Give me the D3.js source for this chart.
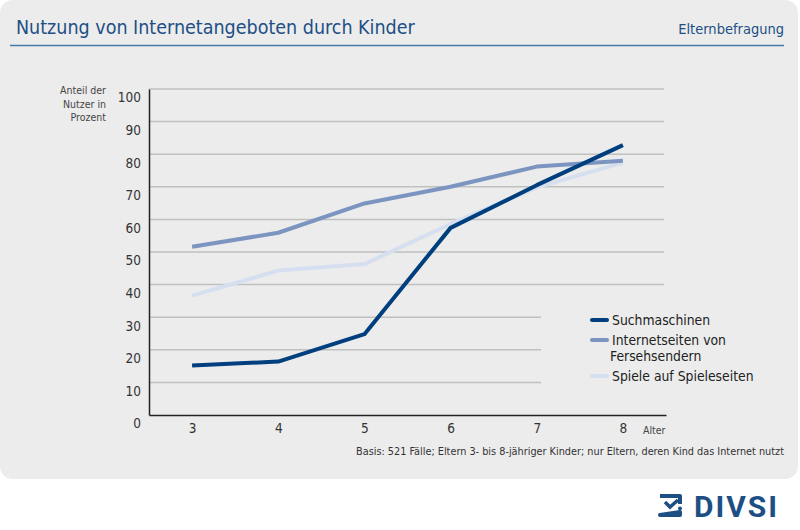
<!DOCTYPE html>
<html lang="de">
<head>
<meta charset="UTF-8">
<title>Nutzung von Internetangeboten durch Kinder</title>
<script src="https://d3js.org/d3.v7.min.js"></script>
<style>
  body { margin: 0; padding: 0; background: #fff; }
  svg { display: block; font-family: "DejaVu Sans Condensed", "DejaVu Sans", sans-serif; }
  .grid line { stroke: #c0c0c0; stroke-width: 1.5px; }
  .tick text { fill: #333; }
</style>
</head>
<body>
<div id="chart"></div>
<script>
// Alter der Kinder
const ages = [3, 4, 5, 6, 7, 8];

// Anteil der Nutzer in Prozent
const suchmaschinen = [15.2, 16.4, 24.8, 57.4, 70.5, 82.8];
const fernsehsender = [51.6, 55.9, 64.9, 70.0, 76.2, 78.0];
const spiele        = [36.6, 44.3, 46.3, 58.6, 69.8, 77.4];

const seriesColors = ["#003f7d", "#7b95c0", "#d6dff0"];
const yTicks = [0, 10, 20, 30, 40, 50, 60, 70, 80, 90, 100];

const W = 800, H = 530;
const svg = d3.select("#chart").append("svg")
    .attr("width", W).attr("height", H);

// grauer Hintergrund
svg.append("rect")
    .attr("x", 0).attr("y", 0)
    .attr("width", 798).attr("height", 479)
    .attr("rx", 13)
    .attr("fill", "#ececec");

// Titel
svg.append("text")
    .attr("x", 16).attr("y", 34)
    .attr("font-size", 19.5)
    .attr("fill", "#1d4f85")
    .text("Nutzung von Internetangeboten durch Kinder");

svg.append("text")
    .attr("x", 784).attr("y", 34)
    .attr("text-anchor", "end")
    .attr("font-size", 14.5)
    .attr("fill", "#1d4f85")
    .text("Elternbefragung");

svg.append("line")
    .attr("x1", 10).attr("x2", 784)
    .attr("y1", 45.5).attr("y2", 45.5)
    .attr("stroke", "#4a78a6").attr("stroke-width", 1.5);

const x = d3.scaleLinear().domain([2.5, 8.5]).range([149, 666]);
const y = d3.scaleLinear().domain([0, 100]).range([415, 89]);

// Gitterlinien (unten kürzer wegen Legende)
svg.append("g").attr("class", "grid")
  .selectAll("line")
  .data(yTicks.filter(d => d > 0))
  .join("line")
    .attr("x1", x(2.5))
    .attr("x2", d => d <= 30 ? 541 : x(8.5) - 2)
    .attr("y1", d => y(d)).attr("y2", d => y(d));

// y-Achse
const yAxis = svg.append("g")
    .attr("transform", `translate(${x(2.5)},0)`)
    .call(d3.axisLeft(y).tickValues(yTicks).tickSize(0).tickPadding(8));
yAxis.select(".domain").attr("stroke", "#222").attr("stroke-width", 1.5);
yAxis.selectAll(".tick text")
    .attr("font-size", 13.5)
    .attr("dy", "0.95em")
    .attr("font-family", "DejaVu Sans Condensed");

// x-Achse
const xAxis = svg.append("g")
    .attr("transform", `translate(0,${y(0)})`)
    .call(d3.axisBottom(x).tickValues(ages).tickFormat(d3.format("d")).tickSize(0).tickPadding(8));
xAxis.select(".domain").attr("stroke", "#222").attr("stroke-width", 1.5);
xAxis.selectAll(".tick text")
    .attr("font-size", 13.5)
    .attr("font-family", "DejaVu Sans Condensed");

svg.append("text")
    .attr("x", 643).attr("y", 434)
    .attr("font-size", 10.5).attr("fill", "#444")
    .text("Alter");

// y-Achsentitel
const yTitle = svg.append("text")
    .attr("text-anchor", "end")
    .attr("font-size", 10.5).attr("fill", "#444");
["Anteil der", "Nutzer in", "Prozent"].forEach((t, i) => {
  yTitle.append("tspan").attr("x", 106).attr("y", 94 + i * 13.5).text(t);
});

// Linien
const series = [suchmaschinen, fernsehsender, spiele];
const line = d3.line()
    .x((d, i) => x(ages[i]))
    .y(d => y(d));

// hellste zuerst zeichnen
[2, 1, 0].forEach(k => {
  svg.append("path")
      .datum(series[k])
      .attr("d", line)
      .attr("fill", "none")
      .attr("stroke", seriesColors[k])
      .attr("stroke-width", 4)
      .attr("stroke-linejoin", "round");
});

// Legende
const legend = svg.append("g").attr("transform", "translate(592,320)");
const legendRows = [
  { lines: ["Suchmaschinen"], dy: 0 },
  { lines: ["Internetseiten von", "Fersehsendern"], dy: 20 },
  { lines: ["Spiele auf Spieleseiten"], dy: 56 }
];
legendRows.forEach((r, i) => {
  legend.append("line")
      .attr("x1", 0).attr("x2", 15)
      .attr("y1", r.dy).attr("y2", r.dy)
      .attr("stroke", seriesColors[i]).attr("stroke-width", 4)
      .attr("stroke-linecap", "round");
  const t = legend.append("text")
      .attr("font-size", 13.8).attr("fill", "#222");
  r.lines.forEach((s, j) => {
    t.append("tspan")
        .attr("x", j === 0 ? 20 : 18)
        .attr("y", r.dy + 5 + j * 15.5)
        .text(s);
  });
});

// Fußnote
svg.append("text")
    .attr("x", 784).attr("y", 455)
    .attr("text-anchor", "end")
    .attr("font-size", 10.8).attr("fill", "#333")
    .text("Basis: 521 Fälle; Eltern 3- bis 8-jähriger Kinder; nur Eltern, deren Kind das Internet nutzt");

// Logo
const logo = svg.append("g").attr("transform", "translate(658,494)");
logo.append("path")
    .attr("d", "M2,2 H22 V10 M22,18 V21 H2 Z")
    .attr("fill", "none").attr("stroke", "#1d4f85").attr("stroke-width", 4)
    .attr("stroke-linejoin", "round");
logo.append("path")
    .attr("d", "M7,8 L12,13 L20,6")
    .attr("fill", "none").attr("stroke", "#1d4f85").attr("stroke-width", 3.5);
logo.append("circle").attr("cx", 22).attr("cy", 14.5).attr("r", 2).attr("fill", "#1d4f85");
logo.append("text")
    .attr("x", 36).attr("y", 22.5)
    .attr("font-size", 30).attr("font-weight", "bold")
    .attr("letter-spacing", 2)
    .attr("font-family", "Roboto, sans-serif")
    .attr("fill", "#1d4f85")
    .text("DIVSI");
</script>
</body>
</html>
